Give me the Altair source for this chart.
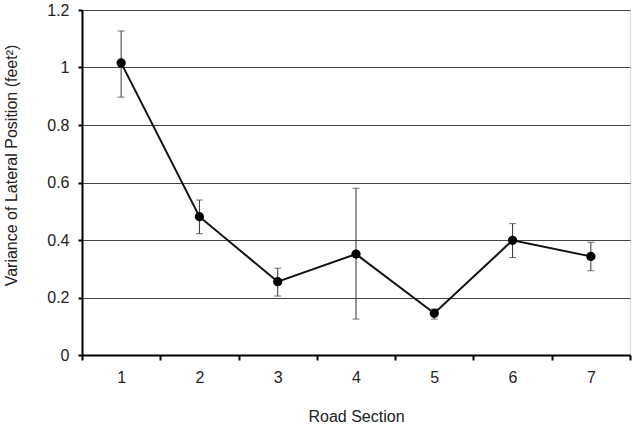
import altair as alt
import pandas as pd

sections = ["1", "2", "3", "4", "5", "6", "7"]
variance = [1.016, 0.481, 0.255, 0.351, 0.145, 0.399, 0.343]
err_low = [0.897, 0.422, 0.205, 0.125, 0.125, 0.339, 0.293]
err_high = [1.127, 0.539, 0.302, 0.580, 0.160, 0.457, 0.392]
y_ticks = [0, 0.2, 0.4, 0.6, 0.8, 1.0, 1.2]

df = pd.DataFrame({"section": sections, "v": variance, "lo": err_low, "hi": err_high})

FONT = "Liberation Sans"

x = alt.X("section:O", sort=sections,
          scale=alt.Scale(paddingInner=0, paddingOuter=0),
          axis=alt.Axis(title="Road Section", labelAngle=0, tickBand="extent",
                        domainColor="black", domainWidth=2, tickColor="black", tickWidth=2,
                        tickSize=5, labelPadding=9, labelFontSize=16, labelFont=FONT,
                        labelColor="#222", titleFont=FONT, titleFontSize=16,
                        titleFontWeight="normal", titleColor="#222",
                        titleY=61, titleBaseline="middle", grid=False))

y_axis = alt.Axis(title="Variance of Lateral Position (feet²)", values=y_ticks,
                  labelExpr="format(datum.value, '~g')",
                  domainColor="black", domainWidth=2, tickColor="black", tickWidth=2,
                  tickSize=4, labelPadding=9, labelFontSize=16, labelFont=FONT,
                  labelColor="#222", titleFont=FONT, titleFontSize=16,
                  titleFontWeight="normal", titleColor="#222",
                  titleX=-71, titleY=155, titleBaseline="middle", titleAlign="center",
                  grid=True, gridColor="#444", gridWidth=1)

yscale = alt.Scale(domain=[0, 1.2], nice=False)

base = alt.Chart(df)

rules = base.mark_rule(color="#333", strokeWidth=1).encode(
    x=x, y=alt.Y("lo:Q", scale=yscale, axis=y_axis), y2="hi:Q")
caps_lo = base.mark_tick(color="#333", thickness=1, size=7).encode(
    x=x, y=alt.Y("lo:Q", scale=yscale))
caps_hi = base.mark_tick(color="#333", thickness=1, size=7).encode(
    x=x, y=alt.Y("hi:Q", scale=yscale))
line = base.mark_line(color="#111", strokeWidth=2).encode(
    x=x, y=alt.Y("v:Q", scale=yscale))
points = base.mark_circle(color="black", size=85, opacity=1).encode(
    x=x, y=alt.Y("v:Q", scale=yscale))

chart = alt.layer(rules, caps_lo, caps_hi, line, points).properties(
    width=548, height=345,
    autosize=alt.AutoSizeParams(type="none"),
    padding={"left": 82, "top": 10, "right": 9, "bottom": 75},
).configure_view(stroke=None).configure(background="white")

chart.save("out.html", embed_options={"renderer": "svg", "actions": False})
